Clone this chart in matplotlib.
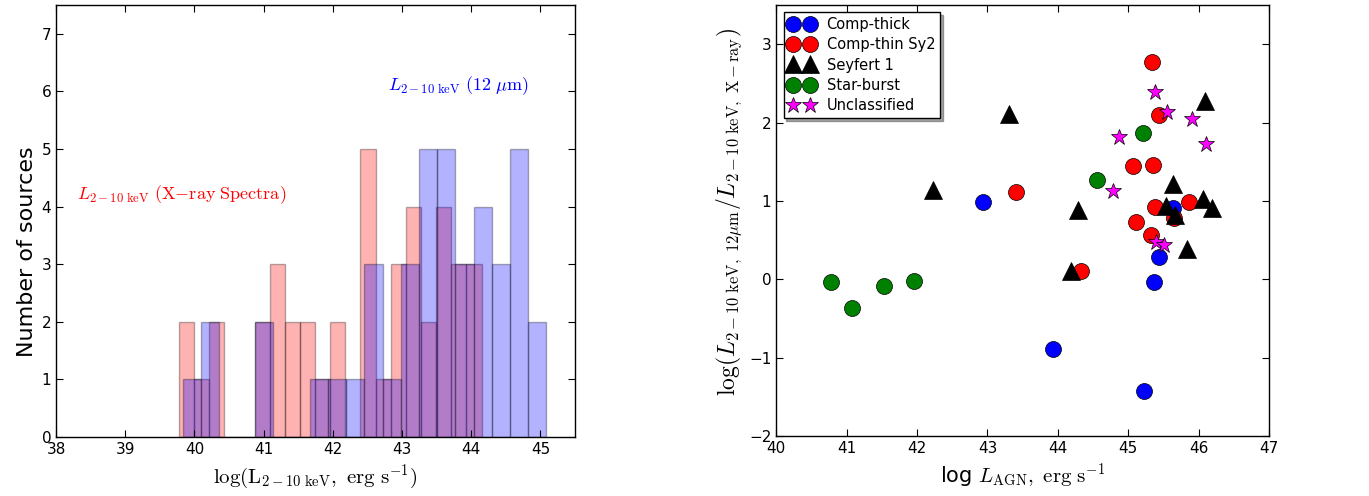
import numpy as np
import matplotlib
matplotlib.use('Agg')
import matplotlib.pyplot as plt

plt.rcParams['mathtext.fontset'] = 'cm'
plt.rcParams['font.family'] = 'DejaVu Sans'

# HISTOGRAM DATA (counts per bin, 20 equal bins over each range)

xray_range = (39.774, 44.149)
xray_counts = [2, 1, 2, 0, 0, 2, 3, 2, 2, 1, 2, 0, 5, 1, 3, 4, 2, 4, 3, 3]

mir_range = (39.827, 45.087)
mir_counts = [1, 2, 0, 0, 2, 0, 0, 1, 1, 1, 3, 1, 3, 5, 5, 3, 4, 3, 5, 2]

# SCATTER DATA

thick_x = [42.93, 43.93, 45.22, 45.44, 45.37, 45.63]
thick_y = [0.99, -0.89, -1.42, 0.28, -0.03, 0.91]

thin_x = [43.41, 44.33, 45.34, 45.44, 45.07, 45.35, 45.11, 45.38, 45.32, 45.65, 45.86]
thin_y = [1.11, 0.10, 2.77, 2.10, 1.45, 1.46, 0.73, 0.92, 0.56, 0.78, 0.99]

sy1_x = [43.31, 42.22, 44.29, 44.18, 46.09, 45.63, 45.54, 45.67, 46.06, 46.19, 45.84]
sy1_y = [2.11, 1.14, 0.88, 0.11, 2.28, 1.21, 0.94, 0.82, 1.02, 0.91, 0.39]

sb_x = [40.78, 41.08, 41.53, 41.96, 44.56, 45.21]
sb_y = [-0.03, -0.37, -0.08, -0.02, 1.27, 1.86]

uncl_x = [45.38, 45.55, 45.91, 44.87, 46.11, 44.78, 45.39, 45.51]
uncl_y = [2.39, 2.13, 2.04, 1.81, 1.72, 1.12, 0.47, 0.44]

fig = plt.figure(figsize=(13.69, 4.96), dpi=100)
ax1 = fig.add_axes([0.041, 0.119, 0.379, 0.871])
ax2 = fig.add_axes([0.567, 0.121, 0.360, 0.869])


def hist_from_counts(ax, rng, counts, cor):
    bordas = np.linspace(rng[0], rng[1], len(counts) + 1)
    centros = (bordas[:-1] + bordas[1:]) / 2
    ax.hist(centros, bins=bordas, weights=counts, color=cor, alpha=0.3,
            edgecolor='k', linewidth=1.0)


hist_from_counts(ax1, xray_range, xray_counts, 'r')
hist_from_counts(ax1, mir_range, mir_counts, 'b')

ax1.text(38.3, 4.2, r'$L_{\rm 2-10\ keV}\ \rm (X{-}ray\ Spectra)$', color='r',
         fontsize=13, va='center')
ax1.text(42.8, 6.1, r'$L_{\rm 2-10\ keV}\ (12\ \mu{\rm m})$', color='b',
         fontsize=13, va='center')

ax1.set_xlim(38, 45.5)
ax1.set_ylim(0, 7.5)
ax1.set_xticks(range(38, 46))
ax1.set_yticks(range(0, 8))
ax1.set_xlabel(r'$\rm log(L_{2-10\ keV},\ erg\ s^{-1})$', fontsize=15)
ax1.set_ylabel('Number of sources', fontsize=16)
ax1.yaxis.set_label_coords(-0.037, 0.43)

# SCATTER

ax2.plot(thick_x, thick_y, 'o', color='b', markersize=11.5, markeredgecolor='k',
         markeredgewidth=0.5, label='Comp-thick')
ax2.plot(thin_x, thin_y, 'o', color='r', markersize=11.5, markeredgecolor='k',
         markeredgewidth=0.5, label='Comp-thin Sy2')
ax2.plot(sy1_x, sy1_y, '^', color='k', markersize=12.5, markeredgecolor='k',
         markeredgewidth=0.5, label='Seyfert 1')
ax2.plot(sb_x, sb_y, 'o', color='green', markersize=11.5, markeredgecolor='k',
         markeredgewidth=0.5, label='Star-burst')
ax2.plot(uncl_x, uncl_y, '*', color='magenta', markersize=12, markeredgecolor='k',
         markeredgewidth=0.5, label='Unclassified')

ax2.set_xlim(40, 47)
ax2.set_ylim(-2, 3.5)
ax2.set_xticks(range(40, 48))
ax2.set_yticks(range(-2, 4))
ax2.set_xlabel(r'log $L_{\rm AGN},\ \rm erg\ s^{-1}$', fontsize=15)
ax2.set_ylabel(r'$\log(L_{\rm 2-10\ keV,\ 12\mu m}/L_{\rm 2-10\ keV,\ X-ray})$',
               fontsize=17)
ax2.yaxis.set_label_coords(-0.066, 0.52)

leg = ax2.legend(loc='upper left', numpoints=2, fontsize=10.5, shadow=True,
                 fancybox=False, handletextpad=0.8, borderpad=0.35,
                 labelspacing=0.35, borderaxespad=0.5, handlelength=1.8)
leg.get_frame().set_edgecolor('k')
leg.get_frame().set_linewidth(1.0)

for ax in (ax1, ax2):
    ax.tick_params(direction='in', top=True, right=True, labelsize=11,
                   length=5, width=0.8)
    for s in ax.spines.values():
        s.set_linewidth(1.0)

fig.savefig('out.png', dpi=100)
